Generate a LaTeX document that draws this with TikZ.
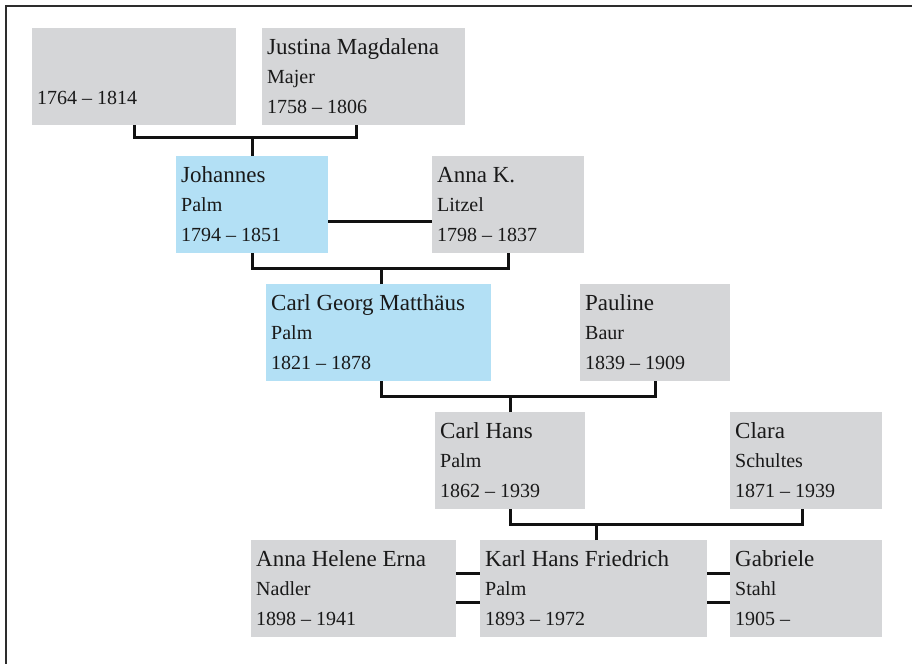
\documentclass[tikz,border=0pt]{standalone}
\usepackage{fontspec}
\setmainfont{Liberation Serif}
\definecolor{boxgray}{RGB}{213,214,216}
\definecolor{boxblue}{RGB}{179,224,245}
\definecolor{linecol}{RGB}{17,17,17}
\definecolor{framecol}{RGB}{45,45,45}

\newcommand{\person}[8]{%
  \node[pbox, fill=#5, minimum width=#4] (#1) at (#2,#3) {};
  \node[pname] (#1-first) at ([shift={(5,26)}]#1.north west) {#6};
  \node[psub] (#1-last) at ([shift={(5,55)}]#1.north west) {#7};
  \node[psub] (#1-dates) at ([shift={(5,85)}]#1.north west) {#8};
}

\begin{document}
\begin{tikzpicture}[x=1pt, y=-1pt,
  pbox/.style={rectangle, anchor=north west, minimum height=97, inner sep=0},
  pname/.style={anchor=base west, inner sep=0, text=black!90, font=\fontsize{23}{27}\selectfont},
  psub/.style={anchor=base west, inner sep=0, text=black!90, font=\fontsize{20}{24}\selectfont},
  conn/.style={line width=3, draw=linecol}]
\useasboundingbox (0,0) rectangle (912,664);
\draw[line width=2.5, draw=framecol] (912,6) -- (6,6) -- (6,664);

\node[pbox, fill=boxgray, minimum width=204] (anon) at (32,28) {};
\node[psub] (anon-dates) at ([shift={(5,76)}]anon.north west) {1764 – 1814};
\person{justina}{262}{28}{203}{boxgray}{Justina Magdalena}{Majer}{1758 – 1806}
\person{johannes}{176}{156}{152}{boxblue}{Johannes}{Palm}{1794 – 1851}
\person{annak}{432}{156}{152}{boxgray}{Anna K.}{Litzel}{1798 – 1837}
\person{carlgeorg}{266}{284}{225}{boxblue}{Carl Georg Matthäus}{Palm}{1821 – 1878}
\person{pauline}{580}{284}{150}{boxgray}{Pauline}{Baur}{1839 – 1909}
\person{carlhans}{435}{412}{150}{boxgray}{Carl Hans}{Palm}{1862 – 1939}
\person{clara}{730}{412}{152}{boxgray}{Clara}{Schultes}{1871 – 1939}
\person{annahelene}{251}{540}{205}{boxgray}{Anna Helene Erna}{Nadler}{1898 – 1941}
\person{karl}{480}{540}{227}{boxgray}{Karl Hans Friedrich}{Palm}{1893 – 1972}
\person{gabriele}{730}{540}{152}{boxgray}{Gabriele}{Stahl}{1905 –}

\draw[conn] (anon.south) -- ++(0,12) -| ([shift={(-7,0)}]justina.south);
\draw[conn] (johannes.north) -- ++(0,-19);
\draw[conn] (johannes.east |- 0,221) -- (annak.west |- 0,221);
\draw[conn] (johannes.south) -- ++(0,15) -| (annak.south);
\draw[conn] ([shift={(2.5,0)}]carlgeorg.north) -- ++(0,-16);
\draw[conn] ([shift={(2.5,0)}]carlgeorg.south) -- ++(0,15) -| (pauline.south);
\draw[conn] (carlhans.north) -- ++(0,-16);
\draw[conn] (carlhans.south) -- ++(0,15) -| ([shift={(-4,0)}]clara.south);
\draw[conn] ([shift={(2.5,0)}]karl.north) -- ++(0,-16);
\draw[conn] (annahelene.east |- 0,573) -- (karl.west |- 0,573);
\draw[conn] (annahelene.east |- 0,602) -- (karl.west |- 0,602);
\draw[conn] (karl.east |- 0,573) -- (gabriele.west |- 0,573);
\draw[conn] (karl.east |- 0,602) -- (gabriele.west |- 0,602);
\end{tikzpicture}
\end{document}
